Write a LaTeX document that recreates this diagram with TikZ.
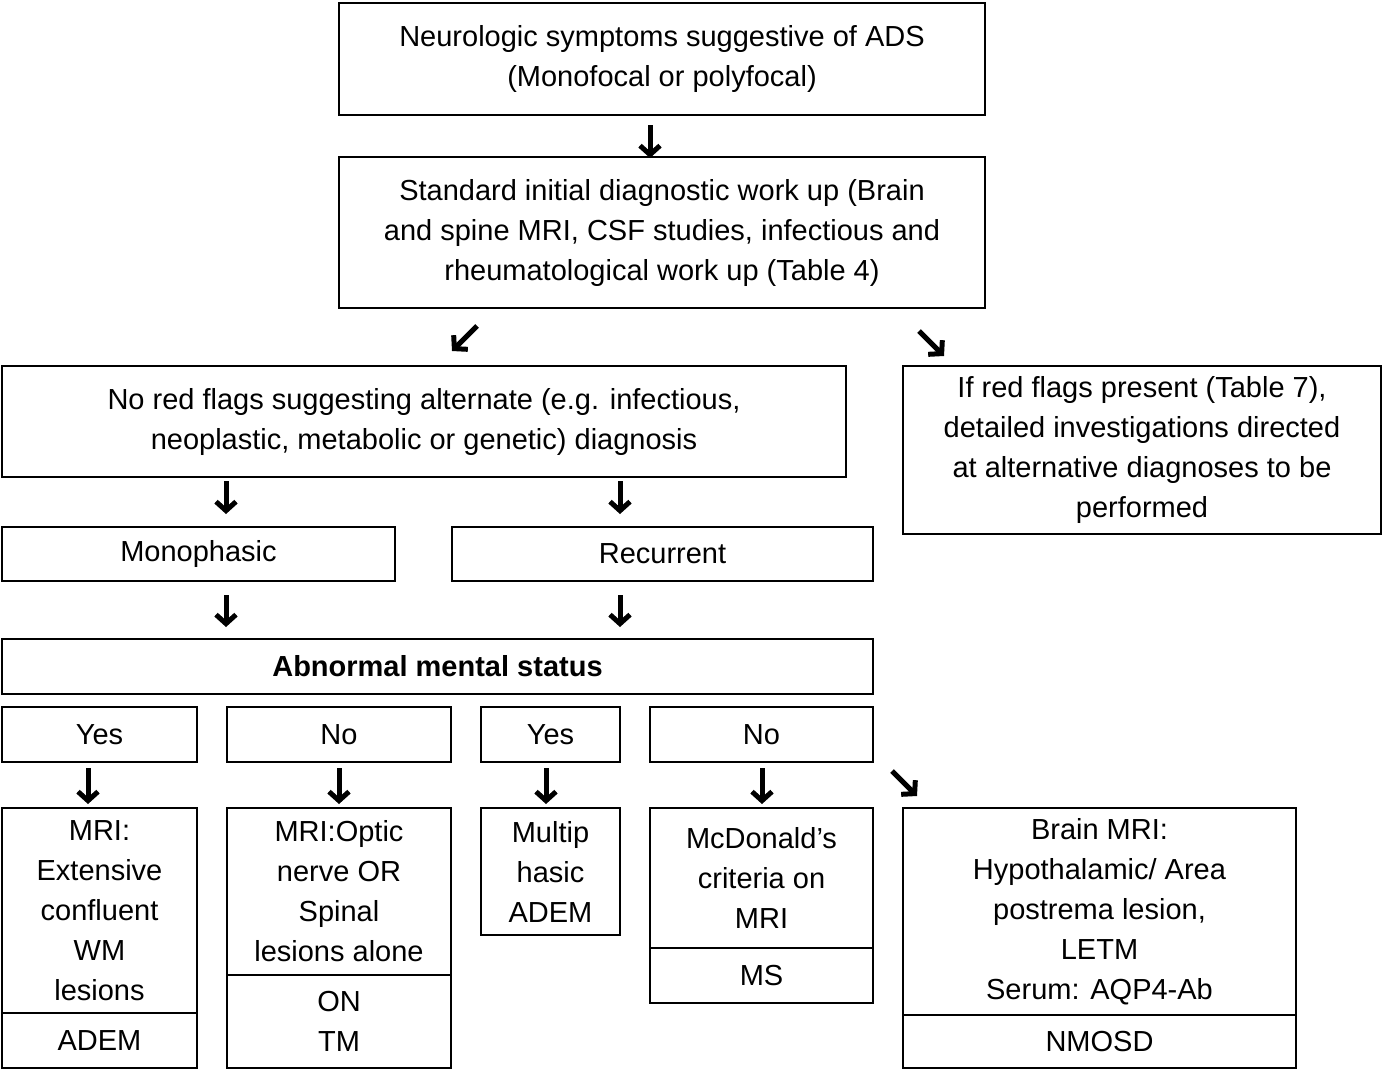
\documentclass[tikz,border=0pt]{standalone}
\usepackage{fontspec}
\setmainfont{Liberation Sans}
\usetikzlibrary{arrows.meta}
\begin{document}
\begin{tikzpicture}[x=1pt,y=-1pt,
 box/.style={draw,line width=2pt,inner sep=0pt,align=center,font=\fontsize{29}{40}\selectfont},
 arr/.style={line width=5pt,-{Straight Barb[length=9pt,width=20pt,line width=5pt]}}]
\newcommand\bx[6]{\node[box,minimum width={#4-#2},minimum height={#5-#3}] (#1) at ({(#2+#4)/2},{(#3+#5)/2}) {#6};}
\useasboundingbox (0,0) rectangle (1384,1071);
\bx{a}{339}{3}{985}{115}{Neurologic symptoms suggestive of ADS\\(Monofocal or polyfocal)}
\bx{b}{339}{157}{985}{308}{Standard initial diagnostic work up (Brain\\and spine MRI, CSF studies, infectious and\\rheumatological work up (Table 4)}
\bx{c}{2}{366}{846}{477}{No red flags suggesting alternate (e.g. infectious,\\neoplastic, metabolic or genetic) diagnosis}
\bx{d}{903}{366}{1381}{534}{If red flags present (Table 7),\\detailed investigations directed\\at alternative diagnoses to be\\performed}
\bx{mono}{2}{527}{395}{581}{Monophasic}
\bx{rec}{452}{527}{873}{581}{Recurrent}
\bx{ams}{2}{639}{873}{694}{\bfseries Abnormal mental status}
\bx{y1}{2}{707}{197}{762}{Yes}
\bx{n1}{227}{707}{451}{762}{No}
\bx{y2}{481}{707}{620}{762}{Yes}
\bx{n2}{650}{707}{873}{762}{No}
\bx{e1}{2}{808}{197}{1013}{MRI:\\Extensive\\confluent\\WM\\lesions}
\bx{f1}{2}{1013}{197}{1068}{ADEM}
\bx{e2}{227}{808}{451}{975}{MRI:Optic\\nerve OR\\Spinal\\lesions alone}
\bx{f2}{227}{975}{451}{1068}{ON\\TM}
\bx{e3}{481}{808}{620}{935}{Multip\\hasic\\ADEM}
\bx{e4}{650}{808}{873}{948}{McDonald’s\\criteria on\\MRI}
\bx{f4}{650}{948}{873}{1003}{MS}
\bx{e5}{903}{808}{1296}{1015}{Brain MRI:\\Hypothalamic/ Area\\postrema lesion,\\LETM\\Serum: AQP4-Ab}
\bx{f5}{903}{1015}{1296}{1068}{NMOSD}
\foreach \n/\x/\ya/\yb in {p1/650/125/158,p2/226/481/514,p3/620/481/514,p4/226/595/627,p5/620/595/627,p6/88/768/804,p7/339/768/804,p8/546/768/804,p9/762/768/804}{
 \coordinate (\n s) at (\x,\ya); \coordinate (\n e) at (\x,\yb);
 \draw[arr] (\n s) -- (\n e);}
\coordinate (q1s) at (477,326); \coordinate (q1e) at (452,351);
\coordinate (q2s) at (919,331); \coordinate (q2e) at (944,356);
\coordinate (q3s) at (892,771); \coordinate (q3e) at (917,796);
\draw[arr] (q1s) -- (q1e);
\draw[arr] (q2s) -- (q2e);
\draw[arr] (q3s) -- (q3e);
\end{tikzpicture}
\end{document}
